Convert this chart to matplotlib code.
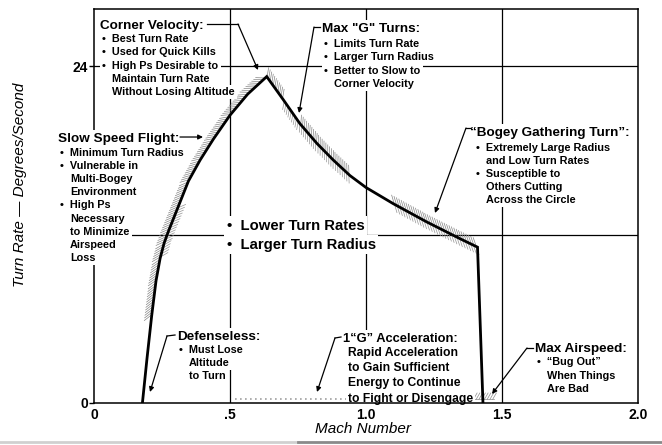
import matplotlib.pyplot as plt
import matplotlib.patheffects as pe

# -------- Data
mach = [0.178, 0.195, 0.212, 0.228, 0.243, 0.258, 0.275, 0.31, 0.347, 0.39, 0.439, 0.5, 0.565,
        0.635, 0.696, 0.757, 0.819, 0.88, 0.941, 1.0, 1.1, 1.223, 1.346, 1.41, 1.43]
turn_rate = [0.0, 3.2, 6.2, 8.7, 10.3, 11.4, 12.3, 14.0, 15.8, 17.3, 18.8, 20.5, 22.0,
             23.25, 21.6, 19.9, 18.5, 17.3, 16.2, 15.35, 14.2, 12.9, 11.7, 11.1, 0.0]

# index ranges of the curve that carry the gray shading
shade_upper = [(2, 14), (15, 18), (20, 23)]
shade_lower = [(4, 7), (14, 18), (20, 23)]
base_noise_mach = [0.52, 0.95]
base_blob_mach = [1.38, 1.47]

x_ticks = [0, 0.5, 1.0, 1.5, 2.0]
x_tick_labels = ['0', '.5', '1.0', '1.5', '2.0']
y_ticks = [0, 24]
y_tick_labels = ['0', '24']
mach_grid = [0.5, 1.0, 1.5]
rate_grid = [12, 24]

plt.rcParams['font.family'] = ['Liberation Sans', 'DejaVu Sans']

fig = plt.figure(figsize=(6.62, 4.45), dpi=100)
ax = fig.add_axes([94 / 662, 42 / 445, 544 / 662, 394.5 / 445])
ax.set_xlim(0, 2)
ax.set_ylim(0, 28.1)


def px(x, y):
    # pixel position in the picture -> data coordinates
    return (x - 94) / 272, (403 - y) / 14.04


box = dict(facecolor='white', edgecolor='none', pad=1.6)

# -------- Grid and frame
for m in mach_grid:
    ax.axvline(m, color='black', lw=0.9, zorder=1)
for r in rate_grid:
    ax.axhline(r, color='black', lw=0.9, zorder=1)
for side, sp in ax.spines.items():
    sp.set_linewidth(1.1)
ax.spines['bottom'].set_zorder(6)

ax.set_xticks(x_ticks, x_tick_labels, fontsize=10, fontweight='bold')
ax.set_yticks(y_ticks, y_tick_labels, fontsize=10, fontweight='bold')
ax.tick_params(axis='x', length=0, pad=3.5)
ax.tick_params(axis='y', length=3.5, width=1.0, pad=1)

ax.set_xlabel('Mach Number', fontsize=11, style='italic', va='center')
ax.xaxis.set_label_coords((363 - 94) / 544, (403 - 429) / 394.5)
ax.set_ylabel('Turn Rate — Degrees/Second', fontsize=11, style='italic', va='center')
ax.yaxis.set_label_coords((19.5 - 94) / 544, (403 - 185) / 394.5)

# -------- Shading around the curve
for a, b in shade_upper:
    ax.plot(mach[a:b + 1], turn_rate[a:b + 1], color='#858585', lw=0.5, zorder=2,
            path_effects=[pe.withTickedStroke(spacing=1.9, angle=135, length=3.6)])
for a, b in shade_lower:
    ax.plot(mach[a:b + 1], turn_rate[a:b + 1], color='#959595', lw=0.5, zorder=2,
            path_effects=[pe.withTickedStroke(spacing=2.2, angle=-45, length=2.8)])
ax.plot(base_noise_mach, [0.3, 0.3], color='#a0a0a0', lw=1.2, ls=(0, (1, 2)), zorder=2)
ax.plot(base_blob_mach, [0.25, 0.25], color='#8c8c8c', lw=0.5, zorder=2,
        path_effects=[pe.withTickedStroke(spacing=1.8, angle=60, length=3)])

# -------- Main curve
ax.plot(mach, turn_rate, color='black', lw=2.0, solid_joinstyle='miter', zorder=5)


# -------- Annotations
def note(x, y, header, lines, text_x, y0, step, hsize=9.7, size=7.8):
    if header:
        ax.text(*px(x, y), header, fontsize=hsize, fontweight='bold', ha='left',
                va='center_baseline', bbox=box, zorder=4)
    # width of "•  " in pixels, so bulleted and plain lines share one left edge
    lead = 0.906 * size * 100 / 72
    for i, (bullet, line) in enumerate(lines):
        yy = y0 + i * step
        if bullet:
            ax.text(*px(text_x - lead, yy), '•  ' + line, fontsize=size, fontweight='bold',
                    ha='left', va='center_baseline', bbox=box, zorder=4)
        else:
            ax.text(*px(text_x, yy), line, fontsize=size, fontweight='bold', ha='left',
                    va='center_baseline', bbox=box, zorder=4)


def leader(points, tip):
    xs, ys = zip(*[px(*p) for p in points])
    ax.plot(xs, ys, color='black', lw=0.9, zorder=4)
    ax.annotate('', xy=px(*tip), xytext=px(*points[-1]), zorder=4,
                arrowprops=dict(arrowstyle='-|>', color='black', lw=0.9,
                                mutation_scale=7, shrinkA=0, shrinkB=0))


note(100, 24, 'Corner Velocity:',
     [(True, 'Best Turn Rate'), (True, 'Used for Quick Kills'), (True, 'High Ps Desirable to'),
      (False, 'Maintain Turn Rate'), (False, 'Without Losing Altitude')],
     112, 38, 13.3)
leader([(207, 24), (238, 24)], (258, 70))

note(322, 27, 'Max "G" Turns:',
     [(True, 'Limits Turn Rate'), (True, 'Larger Turn Radius'), (True, 'Better to Slow to'),
      (False, 'Corner Velocity')],
     334, 43, 13.4)
leader([(320, 27), (314, 27)], (299, 113))

note(58, 137, 'Slow Speed Flight:',
     [(True, 'Minimum Turn Radius'), (True, 'Vulnerable in'), (False, 'Multi-Bogey'),
      (False, 'Environment'), (True, 'High Ps'), (False, 'Necessary'), (False, 'to Minimize'),
      (False, 'Airspeed'), (False, 'Loss')],
     70, 152, 13.1)
leader([(180, 137)], (203, 137))

note(0, 0, None, [(True, 'Lower Turn Rates'), (True, 'Larger Turn Radius')],
     240, 224, 19, size=10.7)

note(470, 131, '“Bogey Gathering Turn”:',
     [(True, 'Extremely Large Radius'), (False, 'and Low Turn Rates'), (True, 'Susceptible to'),
      (False, 'Others Cutting'), (False, 'Across the Circle')],
     486, 147, 13)
leader([(470, 128), (466, 128)], (435, 213))

note(177, 335, 'Defenseless:',
     [(True, 'Must Lose'), (False, 'Altitude'), (False, 'to Turn')],
     189, 349, 13)
leader([(175, 335), (167, 336)], (150, 392))

note(343, 337, '1“G” Acceleration:',
     [(False, 'Rapid Acceleration'), (False, 'to Gain Sufficient'), (False, 'Energy to Continue'),
      (False, 'to Fight or Disengage')],
     348, 351, 15.4, hsize=9.3, size=8.7)
leader([(341, 337), (335, 338)], (317, 392))

note(535, 347, 'Max Airspeed:',
     [(True, '“Bug Out”'), (False, 'When Things'), (False, 'Are Bad')],
     547, 361, 13.5)
leader([(533, 348), (527, 348)], (492, 394))

# -------- Scan edge at the bottom
fig.add_artist(plt.Line2D([0.0, 0.45], [0.007, 0.007], transform=fig.transFigure,
                          color='#d0d0d0', lw=2))
fig.add_artist(plt.Line2D([0.45, 1.0], [0.007, 0.007], transform=fig.transFigure,
                          color='#8a8a8a', lw=2))

fig.savefig('out.png', dpi=100, facecolor='white')
